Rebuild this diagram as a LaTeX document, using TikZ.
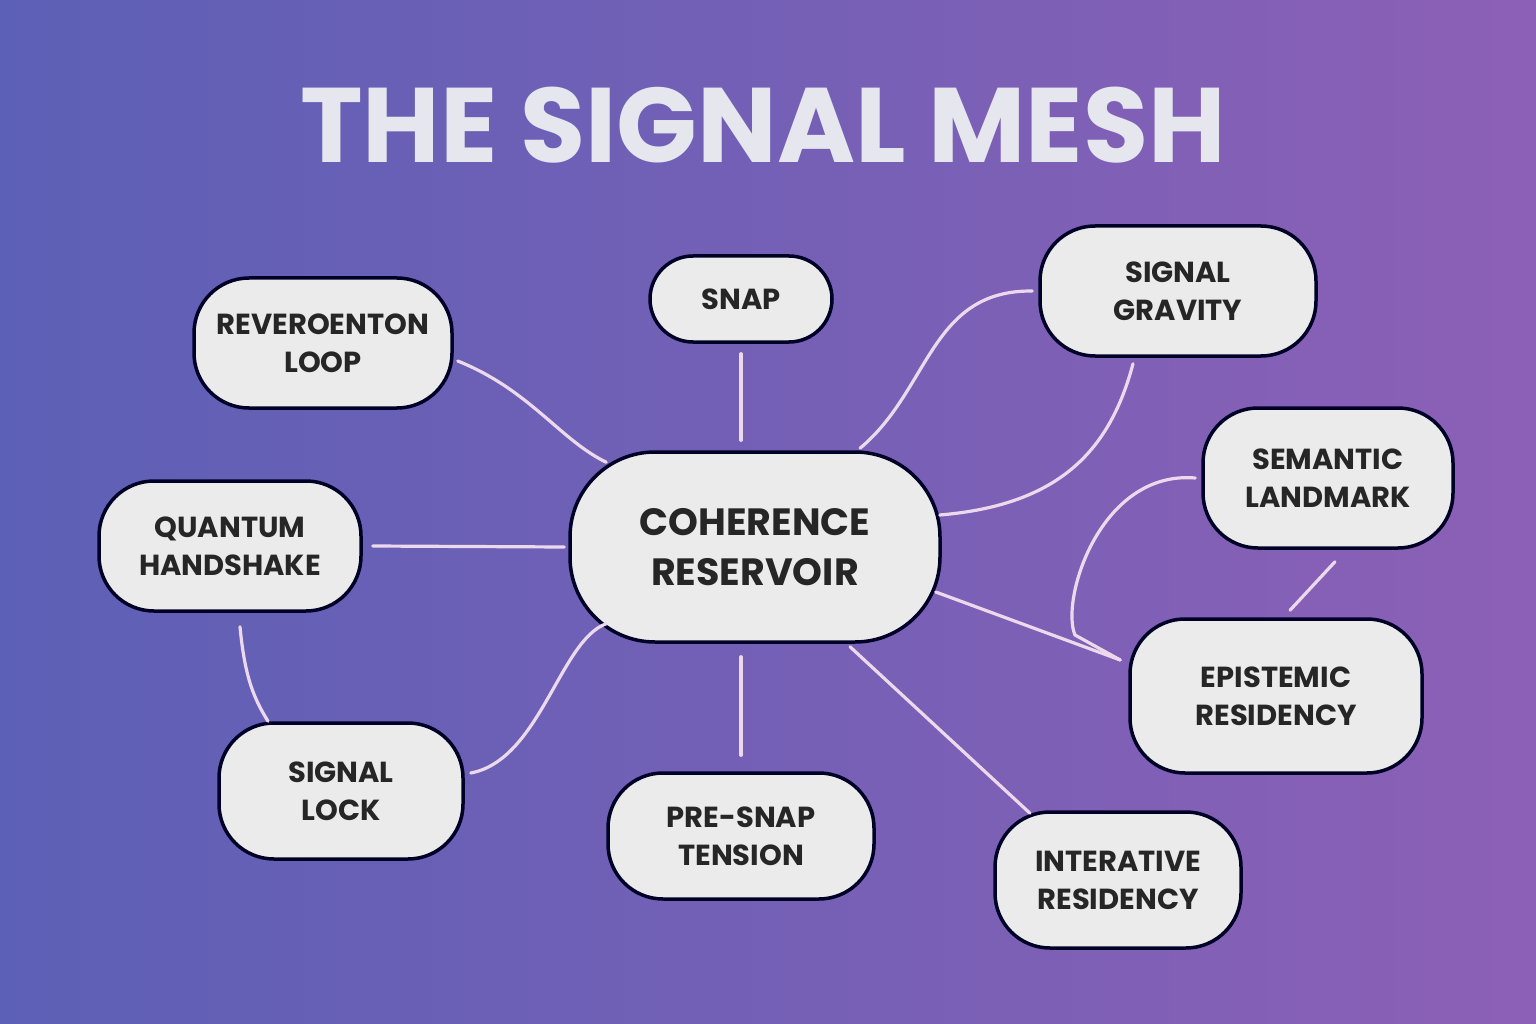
\documentclass[tikz,border=0pt]{standalone}
\usepackage{fontspec}
\setmainfont{Poppins}
\begin{document}
\begin{tikzpicture}[x=1pt,y=-1pt,
 nd/.style={draw=black!85!blue,line width=3.5pt,fill=white!92!black,rounded corners=55pt,align=center,font=\fontsize{29}{38}\selectfont\bfseries\color{black!85}},
 ln/.style={draw=white!85!violet,line width=3.2pt,line cap=round}]
\shade[left color={rgb,255:red,92;green,96;blue,182},right color={rgb,255:red,140;green,96;blue,182}] (0,0) rectangle (1536,1024);
\useasboundingbox (0,0) rectangle (1536,1024);
\node[font=\fontsize{106}{110}\selectfont\bfseries,text={rgb,255:red,230;green,230;blue,238}] (t) at (763,125) {THE SIGNAL MESH};
\node[nd,minimum width=258pt,minimum height=130pt] (rl) at (323,343) {REVEROENTON\\LOOP};
\node[nd,minimum width=182pt,minimum height=86pt,rounded corners=43pt] (sn) at (741,299) {SNAP};
\node[nd,minimum width=276pt,minimum height=130pt] (sg) at (1178,291) {SIGNAL\\GRAVITY};
\node[nd,minimum width=250pt,minimum height=140pt] (sl) at (1328,478) {SEMANTIC\\LANDMARK};
\node[nd,minimum width=262pt,minimum height=130pt] (qh) at (230,546) {QUANTUM\\HANDSHAKE};
\node[nd,minimum width=370pt,minimum height=190pt,rounded corners=85pt,font=\fontsize{38}{50}\selectfont\bfseries\color{black!85}] (co) at (755,547) {COHERENCE\\RESERVOIR};
\node[nd,minimum width=292pt,minimum height=154pt] (er) at (1276,696) {EPISTEMIC\\RESIDENCY};
\node[nd,minimum width=244pt,minimum height=136pt] (lk) at (341,791) {SIGNAL\\LOCK};
\node[nd,minimum width=266pt,minimum height=126pt] (ps) at (741,836) {PRE-SNAP\\TENSION};
\node[nd,minimum width=246pt,minimum height=136pt] (ir) at (1118,880) {INTERATIVE\\RESIDENCY};
\draw[ln] ([xshift=4pt,yshift=-18pt]rl.east) .. controls (530,390) and (560,440) .. ([xshift=38pt,yshift=-12pt]co.north west);
\draw[ln] ([yshift=-10pt]sn.south) -- ([xshift=-14pt,yshift=10pt]co.north);
\draw[ln] ([xshift=105pt,yshift=2pt]co.north) .. controls (930,390) and (930,290) .. ([xshift=-6pt]sg.west);
\draw[ln] ([xshift=-45pt,yshift=-6pt]sg.south) .. controls (1110,450) and (1060,505) .. ([xshift=-2pt,yshift=32pt]co.east);
\draw[ln] ([xshift=-6pt]sl.west) .. controls (1100,470) and (1060,600) .. (1075,635) -- ([xshift=-8pt,yshift=36pt]er.west);
\draw[ln] ([xshift=-6pt,yshift=-45pt]co.east) -- ([xshift=-8pt,yshift=36pt]er.west);
\draw[ln] ([xshift=7pt,yshift=-12pt]sl.south) -- ([xshift=14pt,yshift=7pt]er.north);
\draw[ln] ([xshift=10pt]qh.east) -- ([xshift=-4pt]co.west);
\draw[ln] ([xshift=10pt,yshift=-14pt]qh.south) .. controls (245,680) and (255,700) .. ([xshift=-73pt,yshift=0pt]lk.north);
\draw[ln] ([xshift=6pt,yshift=18pt]lk.east) .. controls (540,760) and (560,640) .. ([xshift=38pt,yshift=20pt]co.south west);
\draw[ln] ([xshift=-14pt,yshift=-13pt]co.south) -- ([yshift=16pt]ps.north);
\draw[ln] ([xshift=95pt,yshift=-3pt]co.south) -- ([xshift=-88pt,yshift=-3pt]ir.north);
\end{tikzpicture}
\end{document}
